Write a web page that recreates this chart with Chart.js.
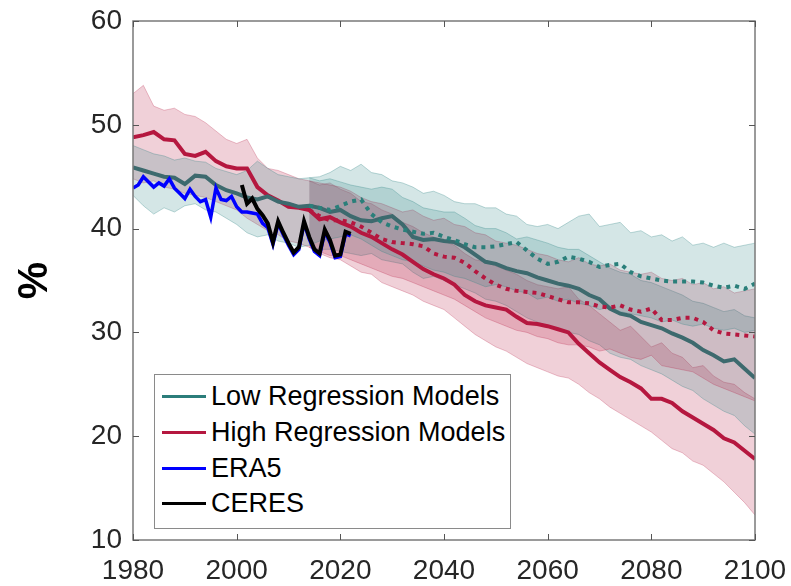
<!DOCTYPE html>
<html>
<head>
<meta charset="utf-8">
<script src="https://cdn.jsdelivr.net/npm/chart.js@4.4.1/dist/chart.umd.min.js"></script>
<style>
  html, body { margin: 0; padding: 0; background: #fff; }
  #wrap { position: relative; width: 791px; height: 586px; }
  #legend {
    position: absolute; left: 154px; top: 374px; width: 355px; height: 149px;
    border: 1.5px solid #8a8a8a; background: #fff; padding-top: 4px; box-sizing: content-box;
    font-family: "Liberation Sans", Arial, sans-serif; font-size: 27px; color: #000;
  }
  .row { height: 35.7px; display: flex; align-items: center; }
  .swatch { width: 44px; height: 3px; margin-left: 7px; margin-right: 5px; }
</style>
</head>
<body>
<div id="wrap">
  <canvas id="chart" width="791" height="586"></canvas>
  <div id="legend"></div>
</div>
<script>
// Años de los modelos (cada 2 años) y de los escenarios
const modelYears = Array.from({length: 61}, (_, i) => 1980 + 2 * i);
const scenYears = Array.from({length: 44}, (_, i) => 2014 + 2 * i);
const era5Years = Array.from({length: 43}, (_, i) => 1980 + i);
const ceresYears = Array.from({length: 22}, (_, i) => 2001 + i);

const xTicks = [1980, 2000, 2020, 2040, 2060, 2080, 2100];
const yTicks = [10, 20, 30, 40, 50, 60];

// Medias
const lowMeanA = [45.9, 45.6, 45.3, 45.0, 44.9, 44.3, 45.1, 45.0, 44.2, 43.7, 43.4, 43.0, 42.8, 43.1, 42.6, 42.4, 42.1, 42.2, 42.0, 41.6, 41.8, 41.2, 40.8, 40.7, 41.0, 41.2, 40.4, 39.2, 38.9, 39.0, 38.8, 38.7, 38.2, 37.5, 36.8, 36.6, 36.2, 35.9, 35.7, 35.3, 35.0, 34.7, 34.5, 34.2, 33.6, 33.2, 32.3, 31.8, 31.6, 31.0, 30.7, 30.4, 29.9, 29.5, 29.0, 28.3, 27.8, 27.2, 27.4, 26.5, 25.6];
const highMeanA = [48.8, 49.0, 49.3, 48.6, 48.5, 47.2, 47.0, 47.4, 46.5, 46.0, 45.8, 45.8, 44.0, 43.2, 42.7, 42.1, 42.0, 41.8, 40.9, 41.1, 40.6, 40.2, 39.6, 39.2, 38.6, 38.0, 37.5, 36.8, 36.1, 35.6, 35.2, 34.6, 33.6, 33.0, 32.6, 32.4, 32.2, 31.5, 30.9, 30.8, 30.6, 30.3, 30.0, 28.9, 28.0, 27.1, 26.4, 25.7, 25.2, 24.6, 23.6, 23.6, 23.2, 22.4, 21.8, 21.2, 20.6, 19.8, 19.4, 18.6, 17.8];
const lowMeanB = [42.2, 42.0, 41.8, 42.2, 42.6, 42.8, 41.4, 40.6, 40.2, 39.9, 39.7, 39.5, 39.6, 39.2, 38.9, 38.5, 38.2, 38.2, 38.3, 38.5, 38.7, 37.9, 37.1, 36.6, 36.8, 37.3, 37.1, 36.8, 36.3, 36.5, 36.6, 35.8, 35.4, 35.2, 35.0, 34.9, 34.9, 34.9, 34.8, 34.5, 34.3, 34.5, 34.2, 34.7];
const highMeanB = [41.8, 41.2, 40.8, 40.8, 40.6, 40.2, 39.6, 39.0, 38.7, 38.6, 38.5, 38.3, 37.6, 37.3, 37.2, 36.7, 35.9, 35.2, 34.6, 34.2, 34.0, 33.9, 33.8, 33.5, 33.2, 32.9, 32.9, 32.8, 32.5, 32.4, 32.6, 32.2, 32.0, 32.3, 31.2, 31.2, 31.4, 31.4, 31.0, 30.2, 29.9, 29.8, 29.7, 29.6];

// Rangos sombreados
const lowUpperA = [48.0, 47.6, 47.2, 47.0, 46.6, 46.8, 46.5, 46.4, 45.8, 45.5, 45.2, 45.6, 46.5, 45.8, 45.2, 45.0, 44.8, 44.9, 44.6, 44.8, 44.5, 44.2, 44.0, 43.8, 44.0, 43.8, 43.0, 42.6, 42.0, 41.8, 41.6, 41.6, 41.0, 40.3, 40.0, 40.0, 39.6, 39.0, 39.2, 38.9, 38.6, 38.2, 38.0, 38.0, 37.4, 36.8, 36.2, 35.8, 35.6, 35.0, 34.8, 34.4, 34.0, 33.6, 33.0, 32.8, 32.4, 32.0, 32.2, 31.6, 31.4];
const lowLowerA = [43.2, 42.2, 41.4, 42.0, 41.6, 42.2, 42.4, 41.8, 41.6, 41.0, 40.4, 39.6, 39.2, 39.4, 38.8, 38.6, 38.2, 38.4, 38.0, 38.0, 37.8, 37.6, 37.4, 37.6, 37.0, 36.8, 36.6, 35.8, 35.2, 35.4, 35.0, 34.6, 34.2, 33.8, 33.2, 33.0, 32.6, 32.0, 31.4, 31.0, 30.6, 30.4, 30.0, 29.8, 29.2, 28.8, 28.0, 27.6, 27.4, 26.8, 26.4, 26.0, 25.4, 24.8, 24.4, 23.6, 23.0, 22.4, 22.0, 21.0, 20.2];
const highUpperA = [53.0, 53.8, 51.8, 51.4, 51.6, 51.0, 50.8, 50.2, 49.4, 48.6, 48.2, 48.6, 46.8, 45.8, 45.6, 45.2, 44.8, 44.6, 44.2, 44.4, 43.8, 43.4, 42.6, 42.4, 41.8, 41.4, 40.6, 40.2, 39.6, 39.2, 38.8, 38.4, 37.6, 37.0, 36.8, 36.4, 36.0, 35.6, 35.0, 34.6, 34.4, 34.2, 34.4, 33.2, 32.6, 31.8, 31.0, 30.2, 30.6, 29.6, 28.6, 29.0, 28.0, 27.6, 26.6, 26.8, 25.8, 25.2, 25.0, 24.2, 23.6];
const highLowerA = [44.8, 44.4, 44.6, 44.0, 43.8, 43.4, 43.2, 43.0, 42.6, 42.2, 41.8, 41.0, 40.4, 39.8, 39.4, 38.8, 38.6, 38.2, 37.6, 37.2, 37.0, 36.4, 35.8, 35.6, 34.8, 34.4, 34.0, 33.6, 33.0, 32.6, 32.2, 31.4, 30.6, 29.8, 29.2, 28.6, 28.2, 27.6, 27.0, 26.6, 26.2, 25.8, 25.6, 25.0, 24.2, 23.6, 22.8, 22.2, 21.6, 21.0, 20.4, 19.6, 18.8, 18.4, 17.6, 17.2, 16.4, 15.6, 14.6, 13.6, 12.4];
const lowUpperB = [44.9, 45.0, 45.4, 46.0, 45.6, 46.2, 45.4, 45.2, 44.6, 44.4, 44.0, 43.4, 43.6, 43.2, 42.6, 42.4, 42.4, 42.0, 42.0, 41.4, 41.2, 40.4, 40.2, 40.4, 40.0, 40.6, 41.2, 41.4, 40.2, 40.4, 40.6, 39.6, 39.8, 39.2, 39.4, 38.8, 39.2, 38.4, 38.6, 38.2, 38.6, 38.2, 38.4, 38.6];
const lowLowerB = [38.4, 38.8, 39.0, 39.2, 39.4, 39.0, 38.4, 37.8, 37.4, 37.0, 36.8, 36.4, 36.0, 35.8, 35.4, 35.2, 34.8, 34.4, 34.6, 34.4, 34.0, 33.8, 33.2, 33.4, 33.0, 33.2, 32.8, 32.6, 32.2, 32.4, 32.0, 31.8, 31.6, 31.4, 31.0, 31.2, 30.8, 30.6, 30.8, 30.4, 30.2, 30.4, 30.0, 30.2];
const highUpperB = [44.6, 44.4, 44.2, 44.0, 43.6, 43.0, 42.6, 42.4, 42.0, 41.6, 41.8, 41.2, 40.8, 41.0, 40.4, 40.2, 39.6, 39.4, 38.8, 38.6, 38.4, 38.0, 37.6, 37.4, 37.0, 36.8, 37.2, 36.6, 36.4, 36.6, 36.0, 35.8, 35.6, 35.8, 35.2, 35.0, 35.2, 34.6, 34.8, 34.2, 34.4, 33.8, 34.0, 34.2];
const highLowerB = [38.2, 37.8, 37.4, 37.4, 37.0, 36.6, 36.2, 35.8, 35.4, 35.2, 34.8, 34.4, 34.0, 33.6, 33.2, 32.6, 32.0, 31.4, 31.0, 30.6, 30.2, 30.0, 29.6, 29.4, 29.0, 28.8, 28.8, 28.6, 28.2, 28.4, 28.0, 27.6, 27.4, 27.8, 26.8, 26.6, 26.4, 26.2, 25.6, 25.0, 24.6, 24.2, 23.8, 23.4];

// Observaciones
const era5 = [43.9, 44.2, 45.0, 44.5, 44.0, 44.4, 44.1, 44.8, 43.9, 43.4, 42.9, 43.8, 43.1, 42.6, 42.8, 41.1, 43.9, 42.8, 42.7, 43.1, 42.1, 41.6, 41.6, 41.5, 41.4, 40.5, 40.1, 38.5, 40.5, 39.4, 38.4, 37.5, 38.0, 40.5, 39.0, 37.8, 37.4, 39.7, 38.7, 37.2, 37.3, 39.5, 39.3];
const ceres = [44.2, 42.4, 42.9, 41.9, 41.3, 40.5, 38.7, 40.7, 39.6, 38.6, 37.7, 38.2, 40.7, 39.2, 38.0, 37.6, 39.9, 38.9, 37.4, 37.5, 39.7, 39.5];

const legendLabels = ['Low Regression Models', 'High Regression Models', 'ERA5', 'CERES'];
const legendColors = ['#2b7d7a', '#b5173f', '#0000ff', '#000000'];

const TEAL_LINE = '#3d6a6e';
const TEAL_DOT = '#2a7f7a';
const RED = '#b5173f';
const TEAL_FILL = 'rgba(42, 128, 128, 0.2)';
const TEAL_EDGE = 'rgba(42, 128, 128, 0.3)';
const RED_FILL = 'rgba(180, 20, 60, 0.2)';
const RED_EDGE = 'rgba(180, 20, 60, 0.25)';

const pts = (xs, ys) => xs.map((x, i) => ({x, y: ys[i]}));

function line(data, color, width, dash) {
    return {data, borderColor: color, borderWidth: width, borderDash: dash || [],
        pointRadius: 0, fill: false, tension: 0, order: 0};
}
function band(data, edge, fillColor, toNext) {
    return {data, borderColor: edge, borderWidth: 1, backgroundColor: fillColor,
        pointRadius: 0, fill: toNext ? '+1' : false, tension: 0, order: 1};
}

const datasets = [
    line(pts(ceresYears, ceres), '#000000', 4),
    line(pts(era5Years, era5), '#0000ff', 3.5),
    line(pts(scenYears, lowMeanB), TEAL_DOT, 4, [4, 5]),
    line(pts(scenYears, highMeanB), RED, 4, [4, 5]),
    line(pts(modelYears, lowMeanA), TEAL_LINE, 4),
    line(pts(modelYears, highMeanA), RED, 4),
    band(pts(scenYears, lowUpperB), TEAL_EDGE, TEAL_FILL, true),
    band(pts(scenYears, lowLowerB), TEAL_EDGE, TEAL_FILL, false),
    band(pts(scenYears, highUpperB), RED_EDGE, RED_FILL, true),
    band(pts(scenYears, highLowerB), RED_EDGE, RED_FILL, false),
    band(pts(modelYears, lowUpperA), TEAL_EDGE, TEAL_FILL, true),
    band(pts(modelYears, lowLowerA), TEAL_EDGE, TEAL_FILL, false),
    band(pts(modelYears, highUpperA), RED_EDGE, RED_FILL, true),
    band(pts(modelYears, highLowerA), RED_EDGE, RED_FILL, false)
];

// Caja y marcas hacia dentro (estilo MATLAB)
const boxPlugin = {
    id: 'box',
    afterDraw(chart) {
        const {ctx, chartArea: a, scales: {x, y}} = chart;
        ctx.save();
        ctx.strokeStyle = '#7a7a7a';
        ctx.lineWidth = 1.5;
        ctx.strokeRect(a.left, a.top, a.right - a.left, a.bottom - a.top);
        ctx.beginPath();
        xTicks.forEach(v => {
            const px = Math.round(x.getPixelForValue(v)) + 0.5;
            ctx.moveTo(px, a.bottom); ctx.lineTo(px, a.bottom - 6);
            ctx.moveTo(px, a.top); ctx.lineTo(px, a.top + 6);
        });
        yTicks.forEach(v => {
            const py = Math.round(y.getPixelForValue(v)) + 0.5;
            ctx.moveTo(a.left, py); ctx.lineTo(a.left + 6, py);
            ctx.moveTo(a.right, py); ctx.lineTo(a.right - 6, py);
        });
        ctx.lineWidth = 1;
        ctx.strokeStyle = '#555';
        ctx.stroke();
        ctx.restore();
    }
};

const tickFont = {family: '"Liberation Sans", Arial, sans-serif', size: 28};

new Chart(document.getElementById('chart').getContext('2d'), {
    type: 'line',
    data: {datasets},
    options: {
        responsive: false,
        animation: false,
        devicePixelRatio: 1,
        layout: {padding: {top: 21, right: 36, left: 0, bottom: 0}},
        plugins: {legend: {display: false}, tooltip: {enabled: false}},
        scales: {
            x: {
                type: 'linear', min: 1980, max: 2100,
                afterBuildTicks: s => { s.ticks = xTicks.map(v => ({value: v})); },
                afterFit: s => { s.height = 46; s.paddingLeft = 0; s.paddingRight = 0; },
                grid: {display: false, drawTicks: false},
                border: {display: false},
                ticks: {font: tickFont, color: '#262626', padding: 14, maxRotation: 0,
                    callback: v => String(v)}
            },
            y: {
                min: 10, max: 60,
                afterBuildTicks: s => { s.ticks = yTicks.map(v => ({value: v})); },
                afterFit: s => { s.width = 133; s.paddingTop = 0; s.paddingBottom = 0; },
                grid: {display: false, drawTicks: false},
                border: {display: false},
                ticks: {font: tickFont, color: '#262626', padding: 11},
                title: {display: true, text: '%', color: '#000',
                    font: {family: '"Liberation Sans", Arial, sans-serif', size: 42, weight: 'bold'},
                    padding: {top: 10, bottom: 0}}
            }
        }
    },
    plugins: [boxPlugin]
});

// Leyenda
const legendEl = document.getElementById('legend');
legendLabels.forEach((label, i) => {
    const row = document.createElement('div');
    row.className = 'row';
    row.innerHTML = `<span class="swatch" style="background:${legendColors[i]}"></span><span>${label}</span>`;
    legendEl.appendChild(row);
});
</script>
</body>
</html>
